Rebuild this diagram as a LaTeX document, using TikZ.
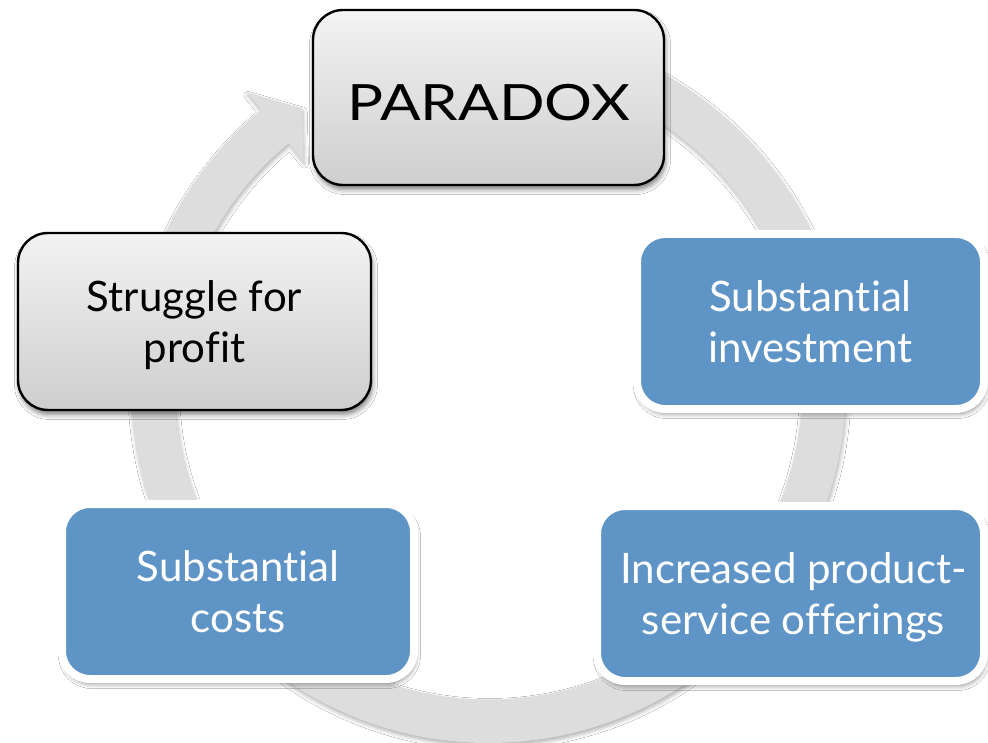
\documentclass[tikz,border=0pt]{standalone}
\usepackage{fontspec}
\setmainfont{Lato}[Ligatures=NoCommon]
\newfontfamily\widelato[FakeStretch=1.2]{Lato}
\usetikzlibrary{calc,shadows.blur}

\definecolor{cyclegray}{RGB}{221,221,221}
\definecolor{stepblue}{RGB}{95,148,199}
\definecolor{boxtop}{RGB}{243,243,243}
\definecolor{boxbottom}{RGB}{206,206,206}

% keep descenders of a last line from shifting the text block
\newcommand\nodepth[1]{\raisebox{0pt}[\height][0pt]{#1}}

\begin{document}
\begin{tikzpicture}[x=1pt,y=-1pt,
  softshadow/.style={blur shadow={shadow xshift=1.5pt,shadow yshift=-4.5pt,
      shadow blur radius=5pt,shadow opacity=50}},
  graybox/.style={rectangle,rounded corners=30pt,draw=black,line width=2.4pt,
      top color=boxtop,bottom color=boxbottom,softshadow,align=center,
      text=black,font=\fontsize{42}{51}\selectfont},
  bluebox/.style={rectangle,rounded corners=28pt,draw=white,line width=8pt,
      fill=stepblue,softshadow,align=center,text=white,
      font=\fontsize{42}{51}\selectfont},
  ringstyle/.style={fill=cyclegray,blur shadow={shadow xshift=1pt,
      shadow yshift=-3pt,shadow blur radius=4pt,shadow opacity=30}}
  ]

% page area
\fill[white] (0,0) rectangle (988,743);
\useasboundingbox (0,0) rectangle (988,743);

% centre of the cycle ring
\coordinate (C) at (488.5,385.5);

% circular arrow running clockwise, head pointing into the top box
\path[ringstyle]
  ($(C)+(-90:357.5)$) arc[start angle=-90, end angle=230.5, radius=357.5]
  -- ($(C)+(230.5:380)$)
  -- ($(C)+(236.1:334)$)
  -- ($(C)+(230.5:291)$)
  -- ($(C)+(230.5:314)$)
  arc[start angle=230.5, end angle=-90, radius=314]
  -- cycle;

% steps of the cycle
\node[graybox,minimum width=351pt,minimum height=175pt,
      font=\widelato\fontsize{50}{60}\selectfont,
      text height=46pt,text depth=0pt] (paradox) at (488.5,97.5) {PARADOX};

\node[bluebox,minimum width=347pt,minimum height=175pt]
  (investment) at (810.5,321.5) {Substantial\\investment};

\node[bluebox,minimum width=387pt,minimum height=175pt]
  (offerings) at (790.5,593.5) {\hspace*{6pt}Increased product-\\\nodepth{\hspace*{6pt}service offerings}};

\node[bluebox,minimum width=352pt,minimum height=175pt]
  (costs) at (238,591.5) {Substantial\\costs};

\node[graybox,minimum width=353pt,minimum height=177pt]
  (profit) at (194.5,321.5) {Struggle for\\\nodepth{profit}};

\end{tikzpicture}
\end{document}
